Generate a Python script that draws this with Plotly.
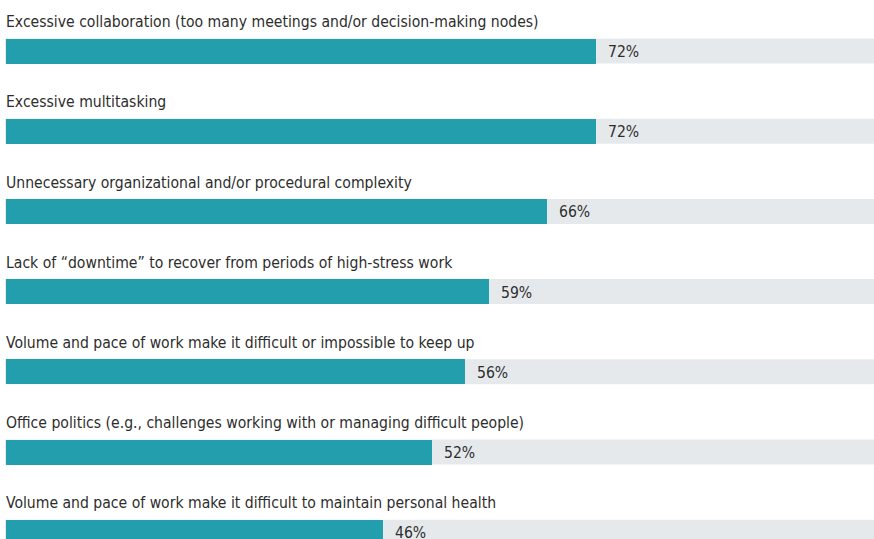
import plotly.graph_objects as go

categories = [
    "Excessive collaboration (too many meetings and/or decision-making nodes)",
    "Excessive multitasking",
    "Unnecessary organizational and/or procedural complexity",
    "Lack of \u201cdowntime\u201d to recover from periods of high-stress work",
    "Volume and pace of work make it difficult or impossible to keep up",
    "Office politics (e.g., challenges working with or managing difficult people)",
    "Volume and pace of work make it difficult to maintain personal health",
]
values = [72, 72, 66, 59, 56, 52, 46]
value_labels = [f"{v}%" for v in values]

TEAL = "#239EAC"
GREY = "#E6E9EC"
TEXT = "#2d2d2d"
FONT = "DejaVu Sans Condensed"

W, H = 874, 539
px_per_unit = 8.19
x_left_px = 6
x_range = [-x_left_px / px_per_unit, (W - x_left_px) / px_per_unit]

row_px = 80.2
first_center = 51
y_range = [(H - first_center) / row_px, -first_center / row_px]
bar_w = 25 / row_px

ypos = list(range(len(categories)))

fig = go.Figure()
fig.add_trace(go.Bar(
    x=values, y=ypos, orientation="h", width=bar_w,
    marker=dict(color=TEAL, line=dict(width=0)),
    hoverinfo="skip", showlegend=False,
))

shapes = []
annotations = []
for i, (cat, v, lab) in enumerate(zip(categories, values, value_labels)):
    shapes.append(dict(
        type="rect", xref="paper", yref="y", layer="below",
        x0=5 / W, x1=1, y0=i - bar_w / 2, y1=i + bar_w / 2,
        fillcolor=GREY, line=dict(width=0),
    ))
    annotations.append(dict(
        x=0, y=i - 0.36, xref="x", yref="y", text=cat, showarrow=False,
        xanchor="left", yanchor="middle", xshift=-2,
        font=dict(family=FONT, size=15.6, color=TEXT),
    ))
    annotations.append(dict(
        x=v, y=i, xref="x", yref="y", text=lab, showarrow=False,
        xanchor="left", yanchor="middle", xshift=10, yshift=-1,
        font=dict(family=FONT, size=15.6, color=TEXT),
    ))

fig.update_layout(
    width=W, height=H,
    margin=dict(l=0, r=0, t=0, b=0),
    paper_bgcolor="white", plot_bgcolor="white",
    xaxis=dict(range=x_range, visible=False, fixedrange=True),
    yaxis=dict(range=y_range, visible=False, fixedrange=True),
    shapes=shapes, annotations=annotations,
    bargap=0,
)

fig.write_html(
    "out.html",
    config={"displayModeBar": False},
    post_script="document.body.style.margin='0';document.body.style.overflow='hidden';",
)
